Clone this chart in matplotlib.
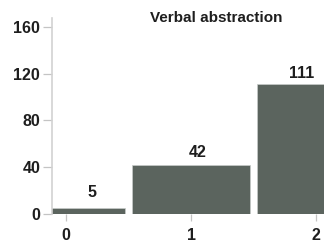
import matplotlib
matplotlib.use("Agg")
import matplotlib.pyplot as plt

# data
categories = [0, 1, 2]
counts = [5, 42, 111]
title = "Verbal abstraction"

plt.rcParams['font.family'] = ['Liberation Sans', 'DejaVu Sans']

W, H = 324, 242
fig = plt.figure(figsize=(W / 100, H / 100), dpi=100)
ax = fig.add_axes([52 / W, 28 / H, 1 - 52 / W, (214 - 18) / H])

ax.bar(categories, counts, width=0.94, color='#5b645e',
       edgecolor='#c8ccca', linewidth=0.5)

# value labels sit a little off the bar centres in the reference (points)
label_dx = [19, 5, -10]
label_dy = [11, 9, 7.5]
for x, v, dx, dy in zip(categories, counts, label_dx, label_dy):
    ax.annotate(str(v), (x, v), xytext=(dx, dy), textcoords='offset points',
                ha='center', va='center', fontsize=11.5, fontweight='bold',
                color='#1e1e1e', annotation_clip=False)

ax.set_xlim(-0.112, 2.064)
ax.set_ylim(0, 167.7)
ax.set_yticks([0, 40, 80, 120, 160])
ax.set_xticks(categories)

for s in ['top', 'right', 'bottom']:
    ax.spines[s].set_visible(False)
ax.spines['left'].set_color('#d2d2d2')
ax.spines['left'].set_linewidth(1.2)

ax.tick_params(axis='y', length=6.5, color='#c4c4c4', width=0.9, pad=2,
               labelsize=11.5, labelcolor='#1e1e1e')
ax.tick_params(axis='x', length=5, color='#c4c4c4', width=0.9, pad=5,
               labelsize=11.5, labelcolor='#1e1e1e')
for lbl in ax.get_xticklabels() + ax.get_yticklabels():
    lbl.set_fontweight('bold')

fig.text(216 / W, 1 - 18.5 / H, title, ha='center', va='center',
         fontsize=11, fontweight='bold', color='#1e1e1e')

fig.savefig('out.png', dpi=100)
